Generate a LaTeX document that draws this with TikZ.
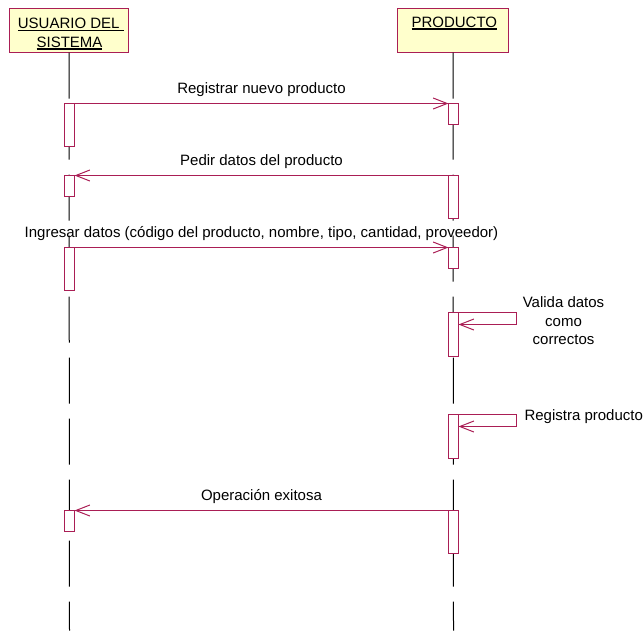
\documentclass[tikz,border=0pt]{standalone}
\usepackage{fontspec}
\setmainfont{Liberation Sans}
\usetikzlibrary{arrows.meta}
\definecolor{rosered}{RGB}{170,30,85}
\definecolor{headfill}{RGB}{255,255,204}
\begin{document}
\begin{tikzpicture}[x=1pt,y=-1pt,
  every node/.style={font=\fontsize{15}{18.5}\selectfont, inner sep=0pt, outer sep=0pt},
  header/.style={draw=rosered, fill=headfill, line width=1pt, minimum height=44pt, anchor=north west},
  headtext/.style={anchor=base},
  uline/.style={line width=1.2pt},
  lifeline/.style={draw=black, line width=1pt, dash pattern=on 46pt off 15pt},
  actbar/.style={draw=rosered, fill=white, line width=1pt, minimum width=10pt, anchor=north},
  msg/.style={draw=rosered, line width=1pt, -{Straight Barb[length=14pt,width=11pt]}},
  msglabel/.style={anchor=base}
]
% half-unit offset keeps the one-unit strokes on whole pixels
\useasboundingbox (-0.5,-0.5) rectangle (643.5,629.5);

% object heads
\node[header, minimum width=119pt] (usr) at (9,8) {};
\node[header, minimum width=111pt] (prod) at (397,8) {};
\node[headtext] (usr1) at (70.3,28.3) {USUARIO DEL\kern4.2pt};
\node[headtext] (usr2) at (69,46.7) {SISTEMA};
\node[headtext] (prod1) at (453.8,26.7) {PRODUCTO};
\foreach \t in {usr1,usr2,prod1}
  \draw[uline] ([yshift=-1.8pt]\t.base west) -- ([yshift=-1.8pt]\t.base east);

% lifelines
\coordinate (uend) at (69,630);
\coordinate (pend) at (453,630);
\draw[lifeline] (usr.south) -- (uend);
\draw[lifeline] (prod.south) -- (pend);

% activation bars
\node[actbar, minimum height=43pt] (u1) at (69,103) {};
\node[actbar, minimum height=21pt] (u2) at (69,175) {};
\node[actbar, minimum height=43pt] (u3) at (69,247) {};
\node[actbar, minimum height=21pt] (u4) at (69,510) {};
\node[actbar, minimum height=21pt] (p1) at (453,103) {};
\node[actbar, minimum height=43pt] (p2) at (453,175) {};
\node[actbar, minimum height=21pt] (p3) at (453,247) {};
\node[actbar, minimum height=44pt] (p4) at (453,312) {};
\node[actbar, minimum height=44pt] (p5) at (453,414) {};
\node[actbar, minimum height=43pt] (p6) at (453,510) {};

% messages
\draw[msg] (u1.north east) -- (p1.north west);
\node[msglabel] (m1) at (261,93) {Registrar nuevo producto};

\draw[msg] (p2.north west) -- (u2.north east);
\node[msglabel] (m2) at (261,165) {Pedir datos del producto};

\draw[msg] (u3.north east) -- (p3.north west);
\node[msglabel] (m3) at (261,237) {Ingresar datos (código del producto, nombre, tipo, cantidad, proveedor)};

\coordinate (s1) at (516,324);
\draw[msg] (p4.north east) -| (s1) -- (p4.east |- s1);
\node[anchor=north, align=center] (m4) at (563,296.4) {Valida datos\\como\\correctos};

\coordinate (s2) at (516,426);
\draw[msg] (p5.north east) -| (s2) -- (p5.east |- s2);
\node[anchor=base west] (m5) at (524,420) {Registra producto};

\draw[msg] (p6.north west) -- (u4.north east);
\node[msglabel] (m6) at (261,500) {Operación exitosa};
\end{tikzpicture}
\end{document}
